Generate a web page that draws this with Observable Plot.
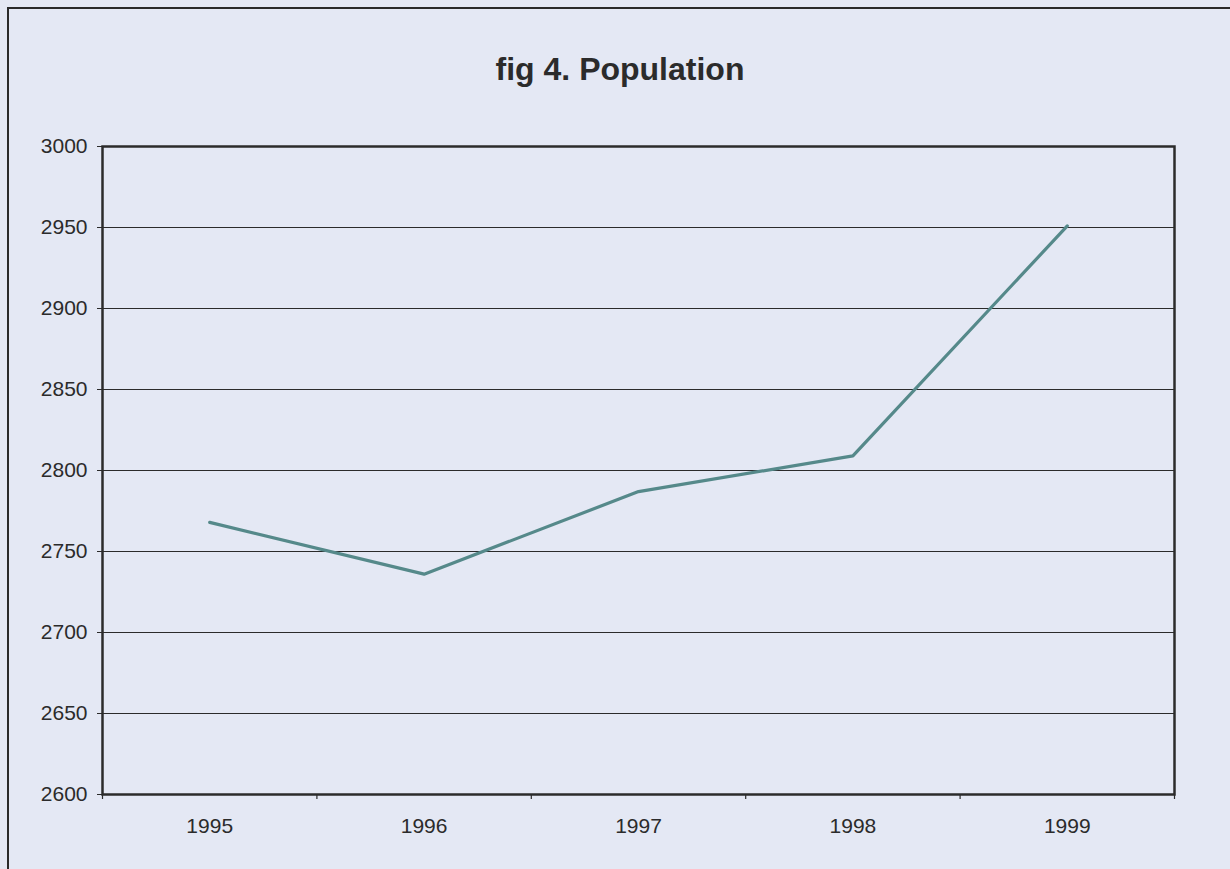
<!DOCTYPE html>
<html>
<head>
<meta charset="utf-8">
<script src="https://cdn.jsdelivr.net/npm/d3@7"></script>
<script src="https://cdn.jsdelivr.net/npm/@observablehq/plot@0.6"></script>
<style>
  html, body { margin: 0; padding: 0; background: #e4e8f4; overflow: hidden; }
  #frame { position: absolute; left: 7px; top: 7px; width: 1240px; height: 880px; border: 2px solid #2a2a2a; box-sizing: border-box; }
  #page { position: absolute; left: 0; top: 0; width: 1230px; }
  #title { height: 100px; position: relative; }
  #title span { position: absolute; left: 0; right: 0; top: 53px; text-align: center; font: bold 32px "Liberation Sans", Arial, sans-serif; line-height: 32px; color: #2b2b2b; padding-left: 10px; }
  svg { display: block; }
</style>
</head>
<body>
<div id="frame"></div>
<div id="page">
  <div id="title"><span>fig 4. Population</span></div>
  <div id="chart"></div>
</div>
<script>
const titleText = "fig 4. Population";
const years = [1995, 1996, 1997, 1998, 1999];
const population = [2768, 2736, 2787, 2809, 2951];
const yTicks = [2600, 2650, 2700, 2750, 2800, 2850, 2900, 2950, 3000];

const data = years.map((year, i) => ({year, value: population[i]}));
const boundaries = [years[0] - 0.5, ...years.map(y => y + 0.5)];

const ink = "#2b2b2b";
const chart = Plot.plot({
  width: 1230,
  height: 769,
  marginLeft: 102,
  marginRight: 56,
  marginTop: 46,
  marginBottom: 75,
  style: {background: "transparent", fontFamily: "'Liberation Sans', Arial, sans-serif", fontSize: "21px", color: ink},
  x: {type: "linear", domain: [boundaries[0], boundaries[boundaries.length - 1]]},
  y: {domain: [2600, 3000]},
  marks: [
    Plot.ruleY(yTicks, {stroke: ink, strokeWidth: 1.2}),
    Plot.axisY({ticks: yTicks, tickSize: 5, tickPadding: 10, tickFormat: d => String(d), label: null, stroke: ink, fill: ink, fontSize: 21}),
    Plot.axisX({ticks: boundaries, tickSize: 5, tickFormat: () => "", label: null, stroke: ink, strokeWidth: 1.2}),
    Plot.axisX({ticks: years, tickSize: 0, tickPadding: 24, tickFormat: d => String(d), label: null, fill: ink, fontSize: 21}),
    Plot.frame({stroke: ink, strokeWidth: 2.5}),
    Plot.line(data, {x: "year", y: "value", stroke: "#55898a", strokeWidth: 3.2})
  ]
});
document.getElementById("chart").appendChild(chart);
</script>
</body>
</html>
